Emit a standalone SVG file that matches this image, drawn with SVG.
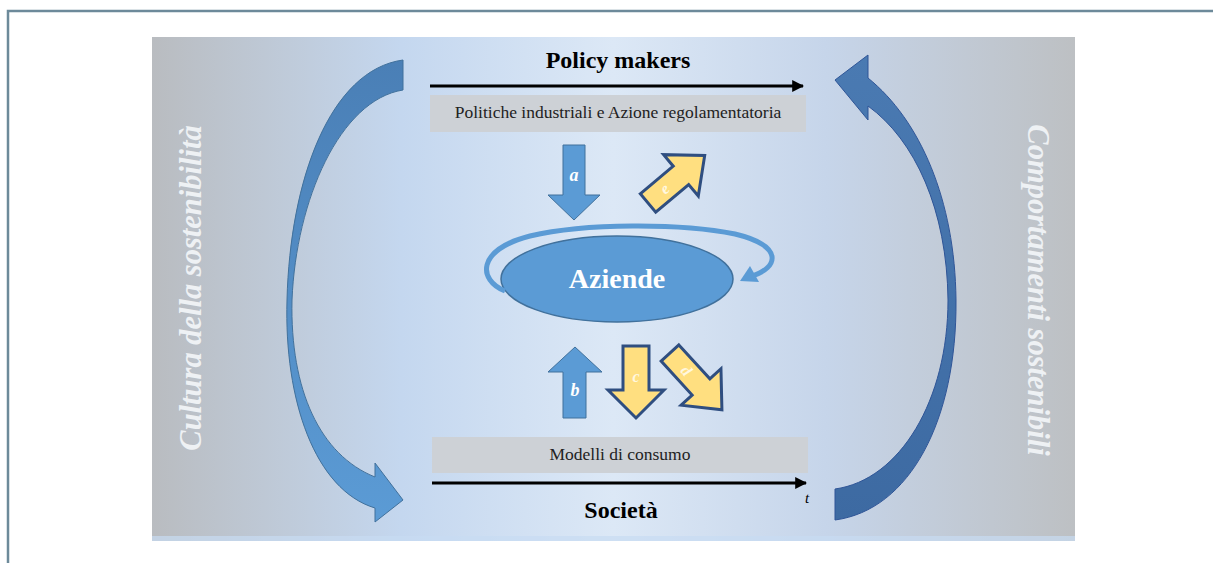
<svg xmlns="http://www.w3.org/2000/svg" width="1213" height="563" viewBox="0 0 1213 563">
<defs>
<linearGradient id="bg" x1="0" y1="0" x2="1" y2="0">
<stop offset="0" stop-color="#b9bcc0"/>
<stop offset="0.27" stop-color="#c4d7ef"/>
<stop offset="0.5" stop-color="#dce8f6"/>
<stop offset="0.73" stop-color="#c6d5ea"/>
<stop offset="1" stop-color="#bdc0c3"/>
</linearGradient>
<linearGradient id="lblue" x1="0" y1="0" x2="0" y2="1">
<stop offset="0" stop-color="#4a7fb6"/>
<stop offset="1" stop-color="#5b9bd5"/>
</linearGradient>
<linearGradient id="rblue" x1="0" y1="0" x2="0" y2="1">
<stop offset="0" stop-color="#4a7ab2"/>
<stop offset="1" stop-color="#3d6aa2"/>
</linearGradient>
<marker id="blk" viewBox="0 0 10 10" refX="9" refY="5" markerWidth="4" markerHeight="4" orient="auto">
<path d="M0,0 L10,5 L0,10 Z" fill="#000"/>
</marker>
</defs>
<style>
.frame{fill:none;stroke:#6d8a9a;stroke-width:2.5}
.bar{fill:#cdd1d6}
.ttl{font-family:"Liberation Serif",serif;font-weight:bold;font-size:24px;fill:#000;text-anchor:middle}
.sub{font-family:"Liberation Serif",serif;font-size:17.5px;fill:#222;text-anchor:middle}
.side{font-family:"Liberation Serif",serif;font-weight:bold;font-style:italic;font-size:30.5px;fill:#eef1f4;text-anchor:middle}
.timeline{stroke:#000;stroke-width:3;fill:none}
.barrow{fill:#5b9bd5;stroke:#41719c;stroke-width:1}
.yarrow{fill:#ffdf80;stroke:#2f4e80;stroke-width:3;stroke-linejoin:miter}
.lbl{font-family:"Liberation Serif",serif;font-style:italic;font-weight:bold;font-size:18px;fill:#fff;text-anchor:middle}
.ylbl{font-family:"Liberation Serif",serif;font-style:italic;font-weight:bold;font-size:16px;fill:#fff8e0;text-anchor:middle}
</style>
<path class="frame" d="M8 563 V11 H1213"/>
<rect x="152" y="37" width="923" height="504" fill="url(#bg)"/>
<rect x="152" y="536" width="923" height="5" fill="#c8dcf2" opacity="0.7"/>

<g id="side-left"><text class="side" transform="translate(201,288) rotate(-90)">Cultura della sostenibilità</text></g>
<g id="side-right"><text class="side" transform="translate(1028,290) rotate(90)">Comportamenti sostenibili</text></g>

<g id="policy-makers">
<text class="ttl" x="618" y="68">Policy makers</text>
</g>
<g id="politiche">
<rect class="bar" x="430" y="95" width="376" height="37"/>
<text class="sub" x="618" y="118">Politiche industriali e Azione regolamentatoria</text>
</g>
<g id="modelli">
<rect class="bar" x="432" y="437" width="376" height="36"/>
<text class="sub" x="620" y="460">Modelli di consumo</text>
</g>
<g id="societa">
<text class="ttl" x="621" y="518">Società</text>
<text x="805" y="503" font-family="Liberation Serif,serif" font-style="italic" font-size="15" fill="#000">t</text>
</g>

<g id="aziende">
<ellipse cx="617" cy="279" rx="116" ry="43" fill="#5b9bd5" stroke="#41719c" stroke-width="1.5"/>
<text x="617" y="288" font-family="Liberation Serif,serif" font-weight="bold" font-size="28" fill="#fff" text-anchor="middle">Aziende</text>
</g>

<g id="connectors">
<line class="timeline" x1="430" y1="86" x2="803" y2="86" marker-end="url(#blk)"/>
<line class="timeline" x1="432" y1="483" x2="806" y2="483" marker-end="url(#blk)"/>

<path id="loop" d="M505 291 C478 280 476 250 530 236 C585 223 680 223 735 234 C785 246 778 268 752 276" fill="none" stroke="#5b9bd5" stroke-width="5"/>
<polygon points="740,281 750,266 759,282" fill="#5b9bd5"/>

<path id="left-curve" d="M403 60 L403 90 C340 100 296 200 292 300 C290 390 320 455 375 477 L375 463 L403 500 L375 522 L375 508 C315 490 284 400 287 300 C290 180 330 70 403 60 Z" fill="url(#lblue)" stroke="#41719c" stroke-width="1"/>
<path id="right-curve" d="M835 80 L868 55 L868 78 C920 120 955 200 956 300 C957 420 910 510 835 520 L835 489 C900 480 948 400 948 300 C947 210 915 140 868 106 L868 120 Z" fill="url(#rblue)" stroke="#2f5597" stroke-width="1"/>

<g id="arrow-a">
<polygon class="barrow" points="563,145 585,145 585,195 600,195 574,220 548,195 563,195"/>
<text class="lbl" x="574" y="181">a</text>
</g>
<g id="arrow-b">
<polygon class="barrow" points="563,418 586,418 586,372 602,372 575,347 548,372 563,372"/>
<text class="lbl" x="575" y="396">b</text>
</g>
<g id="arrow-c">
<polygon class="yarrow" points="623,346 649,346 649,390 664,390 636,418 608,390 623,390"/>
<text class="ylbl" x="636" y="382">c</text>
</g>
<g id="arrow-d" transform="translate(670,353) rotate(47.6)">
<polygon class="yarrow" points="0,-12 46,-12 46,-27 77,0 46,27 46,12 0,12"/>
<text class="ylbl" x="24" y="5">d</text>
</g>
<g id="arrow-e" transform="translate(648,203) rotate(-40)">
<polygon class="yarrow" points="0,-12 43,-12 43,-27 74,0 43,27 43,12 0,12"/>
<text class="ylbl" x="22" y="5">e</text>
</g>
</g>
</svg>
